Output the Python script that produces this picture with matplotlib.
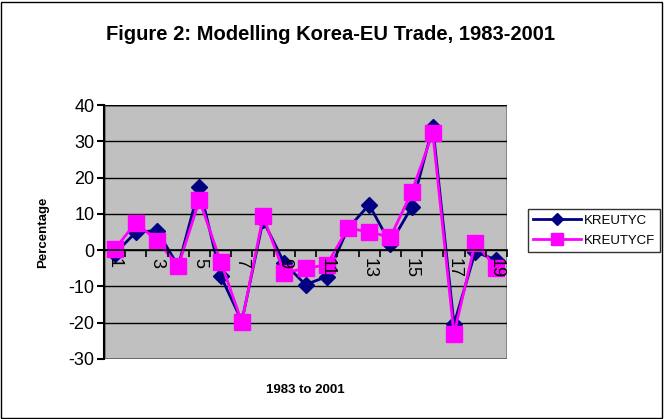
import matplotlib
matplotlib.use("Agg")
import matplotlib.pyplot as plt
from matplotlib.patches import Rectangle
import numpy as np

plt.rcParams['font.family'] = ['Liberation Sans', 'DejaVu Sans']
plt.rcParams['axes.unicode_minus'] = False

periods = list(range(1, 20))
kreutyc = [-1, 4.9, 5.4, -4.4, 17.4, -7.1, -19.6, 8.2, -3.6, -9.5, -7.3,
           6.0, 12.5, 1.8, 11.8, 34.0, -20.4, -0.5, -2.7]
kreutycf = [0.2, 7.6, 2.6, -4.4, 13.8, -3.2, -19.8, 9.3, -6.3, -5.0, -4.1,
            6.1, 5.0, 3.6, 15.9, 32.3, -23.2, 2.1, -5.0]
tick_labels = [str(p) for p in periods if p % 2 == 1]
y_ticks = np.arange(-30, 41, 10)

fig = plt.figure(figsize=(6.64, 4.19), dpi=100)
ax = fig.add_axes([0.1566, 0.1432, 0.607, 0.6062])
ax.set_facecolor('#C0C0C0')
ax.set_axisbelow(False)  # etiquettes au-dessus des marqueurs

# lignes de grille horizontales (sous les courbes)
ax.set_ylim(-30, 40)
ax.set_yticks(y_ticks)
for v in y_ticks:
    ax.axhline(v, color='black', linewidth=1, zorder=1)

ax.plot(periods, kreutyc, color='#000080', linewidth=2, marker='D',
        markersize=8, label='KREUTYC', zorder=2)
ax.plot(periods, kreutycf, color='#FF00FF', linewidth=2, marker='s',
        markersize=11, label='KREUTYCF', zorder=2.1)

ax.set_xlim(0.5, 19.5)
# axe des categories qui croise en 0
ax.spines['bottom'].set_position(('data', 0))
ax.spines['bottom'].set_color('black')
ax.spines['bottom'].set_linewidth(1.2)
ax.spines['left'].set_color('black')
ax.spines['left'].set_linewidth(1.5)
ax.spines['top'].set_visible(False)
ax.spines['right'].set_visible(False)
ax.add_patch(Rectangle((0, 0), 1, 1, transform=ax.transAxes, fill=False,
                       edgecolor='#808080', linewidth=2, zorder=0.5))

ax.set_xticks([p for p in periods if p % 2 == 1])
ax.set_xticklabels(tick_labels, rotation=-90, fontsize=13)
ax.set_xticks(np.arange(0.5, 19.6, 1), minor=True)
ax.tick_params(axis='x', which='major', length=0, pad=6)
ax.tick_params(axis='x', which='minor', length=5, width=1.2, direction='out')
ax.tick_params(axis='y', which='major', length=5, width=1.5, labelsize=13, pad=2)

ax.set_ylabel('Percentage', fontsize=9.5, fontweight='bold', labelpad=14)
fig.text(0.46, 0.069, '1983 to 2001', fontsize=9.5, fontweight='bold',
         ha='center', va='center')

fig.text(0.497, 0.9165, 'Figure 2: Modelling Korea-EU Trade, 1983-2001',
         fontsize=14.5, fontweight='bold', ha='center', va='center')

leg = fig.legend(loc='upper left', bbox_to_anchor=(0.7952, 0.5012),
                 borderaxespad=0, fontsize=9.5, frameon=True, fancybox=False,
                 handlelength=3.6, borderpad=0.4, labelspacing=0.6,
                 handletextpad=0.2, markerscale=0.75)
leg.get_frame().set_edgecolor('black')
leg.get_frame().set_linewidth(1)

fig.patches.append(Rectangle((0.002, 0.003), 0.995, 0.993,
                             transform=fig.transFigure, fill=False,
                             edgecolor='black', linewidth=1))

fig.savefig('out.png', dpi=100)
